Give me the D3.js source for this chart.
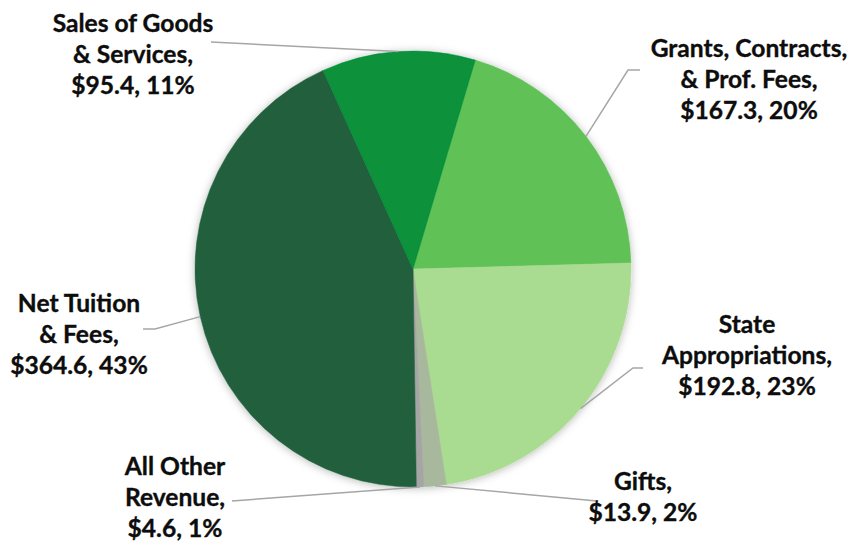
<!DOCTYPE html>
<html>
<head>
<meta charset="utf-8">
<script src="https://cdn.jsdelivr.net/npm/d3@7"></script>
<style>
  html, body { margin: 0; padding: 0; background: #ffffff; }
  svg { display: block; }
</style>
</head>
<body>
<svg id="chart" width="858" height="541"></svg>
<script>
// ---- Data (in millions of dollars), clockwise order starting from Grants ----
const categories = [
  "Grants, Contracts, & Prof. Fees",
  "State Appropriations",
  "Gifts",
  "All Other Revenue",
  "Net Tuition & Fees",
  "Sales of Goods & Services"
];
const values = [167.3, 192.8, 13.9, 4.6, 364.6, 95.4];
const labelNameLines = [
  ["Grants, Contracts,", "& Prof. Fees,"],
  ["State", "Appropriations,"],
  ["Gifts,"],
  ["All Other", "Revenue,"],
  ["Net Tuition", "& Fees,"],
  ["Sales of Goods", "& Services,"]
];
const colors = ["#5fc157", "#a9dc90", "#a8b89c", "#a5a5a5", "#20603c", "#07913a"];

// ---- Layout ----
const W = 858, H = 541;
const cx = 413, cy = 269, R = 218;
const startDeg = 16.6;
const lineH = 31;
// label placement: text center x, first baseline y, leader elbow point, stub end
const labelLayout = [
  { x: 749, y: 57,  elbow: [628, 70],  stub: [640, 70] },
  { x: 747, y: 333, elbow: [633, 368], stub: [643, 368] },
  { x: 643, y: 490, elbow: [597, 501], stub: null },
  { x: 175, y: 475, elbow: [232, 501], stub: null },
  { x: 79,  y: 312, elbow: [155, 329], stub: [143, 329] },
  { x: 133, y: 32,  elbow: [211, 42],  stub: null }
];

const svg = d3.select("#chart");
const total = d3.sum(values);
const data = categories.map((c, i) => ({ name: c, value: values[i], i }));

const defs = svg.append("defs");
const f = defs.append("filter").attr("id", "shadow")
  .attr("x", "-20%").attr("y", "-20%").attr("width", "140%").attr("height", "140%");
f.append("feDropShadow").attr("dx", 0).attr("dy", 1).attr("stdDeviation", 4)
  .attr("flood-color", "#000").attr("flood-opacity", 0.28);

const pie = d3.pie().value(d => d.value).sort(null)
  .startAngle(startDeg * Math.PI / 180)
  .endAngle(startDeg * Math.PI / 180 + 2 * Math.PI);
const arcs = pie(data);
const arc = d3.arc().innerRadius(0).outerRadius(R);

const g = svg.append("g").attr("transform", `translate(${cx},${cy})`);
const slices = g.append("g").attr("filter", "url(#shadow)");
slices.selectAll("path").data(arcs).join("path")
  .attr("d", arc)
  .attr("fill", d => colors[d.data.i])
  .attr("stroke", d => colors[d.data.i])
  .attr("stroke-width", 0.5);

// leader lines
const lines = svg.append("g");
arcs.forEach(a => {
  const mid = (a.startAngle + a.endAngle) / 2;
  const p0 = [cx + R * Math.sin(mid), cy - R * Math.cos(mid)];
  const L = labelLayout[a.data.i];
  const pts = [p0, L.elbow];
  if (L.stub) pts.push(L.stub);
  lines.append("path")
    .attr("d", d3.line()(pts))
    .attr("fill", "none")
    .attr("stroke", "#a6a6a6")
    .attr("stroke-width", 1.5);
});

// labels
const fmtPct = v => Math.round(v / total * 100) + "%";
const labels = svg.append("g")
  .attr("font-family", "Lato, 'Open Sans', sans-serif")
  .attr("font-weight", "bold")
  .attr("font-size", 24.6)
  .attr("fill", "#0d0d0d")
  .attr("stroke", "#0d0d0d")
  .attr("stroke-width", 0.35)
  .attr("text-anchor", "middle");
data.forEach(d => {
  const L = labelLayout[d.i];
  const textLines = labelNameLines[d.i].concat([`$${d.value.toFixed(1)}, ${fmtPct(d.value)}`]);
  const t = labels.append("text").attr("x", L.x).attr("y", L.y);
  textLines.forEach((s, k) => {
    t.append("tspan").attr("x", L.x).attr("y", L.y + k * lineH).text(s);
  });
});
</script>
</body>
</html>
